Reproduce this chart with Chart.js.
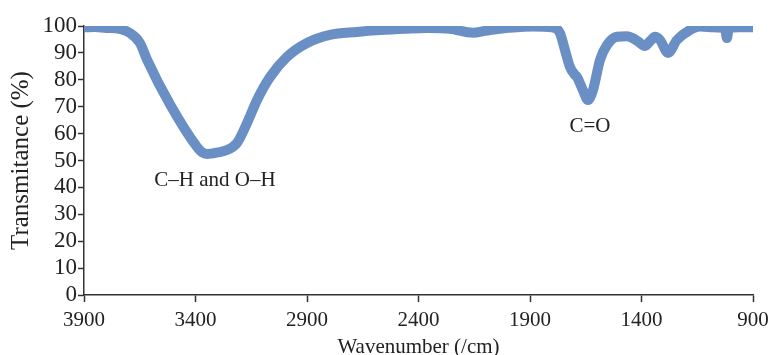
<!DOCTYPE html>
<html>
<head>
<meta charset="utf-8">
<script src="https://cdn.jsdelivr.net/npm/chart.js@4/dist/chart.umd.min.js"></script>
<style>
  html, body { margin: 0; padding: 0; background: #fff; }
  #box { width: 772px; height: 355px; }
</style>
</head>
<body>
<div id="box"><canvas id="grafico"></canvas></div>
<script>
// espectro (numero de onda em cm-1, transmitancia em %)
const numeroOnda = [3900, 3850, 3800, 3760, 3739, 3694, 3649, 3617, 3514, 3393, 3370, 3348, 3300,
  3259, 3214, 3169, 3124, 3066, 2990, 2900, 2797, 2676, 2572, 2460, 2362, 2259, 2156, 2100, 2035,
  1945, 1887, 1802, 1766, 1743, 1721, 1700, 1689, 1662, 1640, 1620, 1609, 1586, 1555, 1510, 1465,
  1440, 1420, 1384, 1360, 1339, 1317, 1281, 1241, 1183, 1138, 1080, 1035, 1025, 1017, 1008, 960, 900];
const transmitancia = [99.5, 99.6, 99.3, 99.2, 98.9, 97.4, 93.7, 87.4, 70.8, 55, 53, 52.4, 53,
  53.9, 56.5, 63.9, 72.5, 81, 88.5, 93.7, 96.7, 97.8, 98.5, 99, 99.3, 99, 97.5, 98.2, 99,
  99.6, 99.8, 99.5, 97.4, 91, 84.8, 82, 81, 76, 72.5, 75.5, 79, 87.4, 92.9, 96, 96.2,
  95.5, 94.5, 92.6, 94.5, 96, 94.8, 90, 94.8, 98.5, 99.8, 99.5, 99.3, 99, 95.5, 99.2, 99.5, 99.5];

const ticksX = [3900, 3400, 2900, 2400, 1900, 1400, 900];
const ticksY = [0, 10, 20, 30, 40, 50, 60, 70, 80, 90, 100];

// rotulos das bandas
const bandas = [
  { texto: "C\u2013H and O\u2013H", x: 3313, y: 42.7 },
  { texto: "C=O", x: 1631, y: 62.5 }
];

const fonte = "'Liberation Serif', 'Times New Roman', serif";
const corEixo = "#333";

const pontos = numeroOnda.map((n, i) => ({ x: n, y: transmitancia[i] }));

const rotulosPlugin = {
  id: "rotulos",
  afterDatasetsDraw(chart) {
    const ctx = chart.ctx;
    const sx = chart.scales.x;
    const sy = chart.scales.y;
    ctx.save();
    ctx.font = "21px " + fonte;
    ctx.fillStyle = "#222";
    ctx.textAlign = "center";
    ctx.textBaseline = "middle";
    bandas.forEach(b => {
      ctx.fillText(b.texto, sx.getPixelForValue(b.x), sy.getPixelForValue(b.y));
    });
    ctx.restore();
  }
};

new Chart(document.getElementById("grafico"), {
  type: "line",
  data: {
    datasets: [{
      data: pontos,
      borderColor: "#6a8fc4",
      borderWidth: 10,
      pointRadius: 0,
      cubicInterpolationMode: "monotone",
      borderCapStyle: "round",
      borderJoinStyle: "round",
      fill: false
    }]
  },
  options: {
    responsive: true,
    maintainAspectRatio: false,
    animation: false,
    layout: { padding: { top: 26, right: 19, left: 0, bottom: 0 } },
    plugins: { legend: { display: false }, tooltip: { enabled: false } },
    scales: {
      x: {
        type: "linear",
        reverse: true,
        min: 900,
        max: 3900,
        afterBuildTicks: s => { s.ticks = ticksX.map(v => ({ value: v })); },
        afterFit: s => { s.height = 60; s.paddingRight = 0; s.paddingLeft = 0; },
        grid: { display: true, drawOnChartArea: false, tickLength: 7, tickColor: corEixo, tickWidth: 1.5 },
        border: { display: true, color: corEixo, width: 1.5 },
        ticks: { color: "#222", padding: 6, maxRotation: 0, autoSkip: false, callback: v => String(v), font: { family: fonte, size: 21 } },
        title: { display: true, text: "Wavenumber (/cm)", color: "#222", padding: { top: 0, bottom: -5 }, font: { family: fonte, size: 21 } }
      },
      y: {
        min: 0,
        max: 100,
        afterBuildTicks: s => { s.ticks = ticksY.map(v => ({ value: v })); },
        afterFit: s => { s.width = 84; },
        grid: { display: true, drawOnChartArea: false, tickLength: 6, tickColor: corEixo, tickWidth: 1.5 },
        border: { display: true, color: corEixo, width: 1.5 },
        ticks: { color: "#222", padding: 1, autoSkip: false, callback: v => String(v), font: { family: fonte, size: 23 } },
        title: { display: true, text: "Transmitance (%)", color: "#222", padding: { top: 6, bottom: 0 }, font: { family: fonte, size: 25 } }
      }
    }
  },
  plugins: [rotulosPlugin]
});
</script>
</body>
</html>
